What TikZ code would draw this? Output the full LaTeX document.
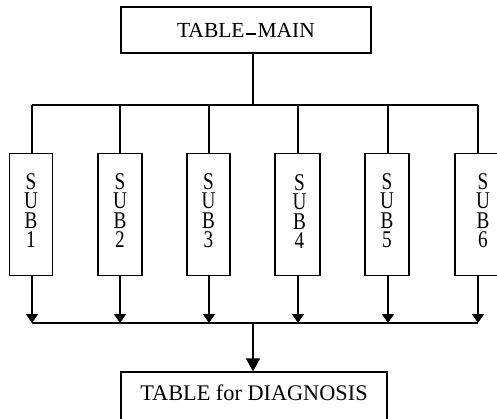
\documentclass[tikz,border=0pt]{standalone}
\usepackage{fontspec}
\setmainfont{Liberation Serif}
\newfontfamily\subfont[FakeStretch=0.8]{Liberation Serif}
\usetikzlibrary{arrows.meta}
\begin{document}
\begin{tikzpicture}[x=1pt,y=-1pt,
  box/.style={draw, line width=1.3pt, inner sep=0pt},
  conn/.style={line width=1.6pt},
  arr/.style={conn, -{Triangle[width=12pt,length=9pt]}},
  bigarr/.style={conn, -{Triangle[width=14pt,length=13pt]}},
  subbox/.style={box, minimum height=122pt, anchor=north},
  sublabel/.style={font=\subfont\fontsize{24}{19.5}\selectfont, align=center, inner sep=0pt, anchor=north}
]
\useasboundingbox (0,0) rectangle (497,418);

% main box
\node[box, minimum width=250pt, text height=30pt, text depth=16pt, anchor=base,
      font=\fontsize{21.5}{24}\selectfont] (main) at (246,37)
      {TABLE\kern1.5pt\rule[2.5pt]{10pt}{1.2pt}\kern1.5pt MAIN};

\coordinate (j) at (253,105);
\draw[conn] (main.south -| j) -- (j);

% top distribution line
\coordinate (t1) at (32,105);
\coordinate (t2) at (120,105);
\coordinate (t3) at (209,105);
\coordinate (t4) at (298,105);
\coordinate (t5) at (388,105);
\coordinate (t6) at (478,105);
\draw[conn] (t1) -- (t6);

% sub boxes
\node[subbox, minimum width=43pt] (s1) at (31,153) {};
\node[subbox, minimum width=44pt] (s2) at (120,153) {};
\node[subbox, minimum width=43pt] (s3) at (208.5,153) {};
\node[subbox, minimum width=45pt] (s4) at (297.5,153) {};
\node[subbox, minimum width=44pt] (s5) at (387,153) {};
\node[subbox, minimum width=56pt] (s6) at (483,153) {};

\node[sublabel] (l1) at ([yshift=-20pt]s1.north) {S\\U\\B\\1};
\node[sublabel] (l2) at ([yshift=-20pt]s2.north) {S\\U\\B\\2};
\node[sublabel] (l3) at ([yshift=-20pt]s3.north) {S\\U\\B\\3};
\node[sublabel] (l4) at ([yshift=-21pt,xshift=2pt]s4.north) {S\\U\\B\\4};
\node[sublabel] (l5) at ([yshift=-20pt]s5.north) {S\\U\\B\\5};
\node[sublabel] (l6) at ([yshift=-20pt]s6.north) {S\\U\\B\\6};

\foreach \i in {1,...,6} {
  \draw[conn] (t\i) -- (t\i |- s\i.north);
}

% collecting line
\coordinate (b1) at (32,323);
\coordinate (b2) at (120,323);
\coordinate (b3) at (209,323);
\coordinate (b4) at (298,323);
\coordinate (b5) at (388,323);
\coordinate (b6) at (478,323);
\foreach \i in {1,...,6} {
  \draw[arr] (b\i |- s\i.south) -- (b\i);
}
\draw[conn] (b1) -- (b6);

% diagnosis box
\node[box, minimum width=266pt, text height=28pt, text depth=30pt, anchor=base,
      font=\fontsize{22.3}{26}\selectfont] (diag) at (254,400) {TABLE for DIAGNOSIS};

\coordinate (bj) at (253,323);
\draw[bigarr] (bj) -- (diag.north -| bj);
\end{tikzpicture}
\end{document}
